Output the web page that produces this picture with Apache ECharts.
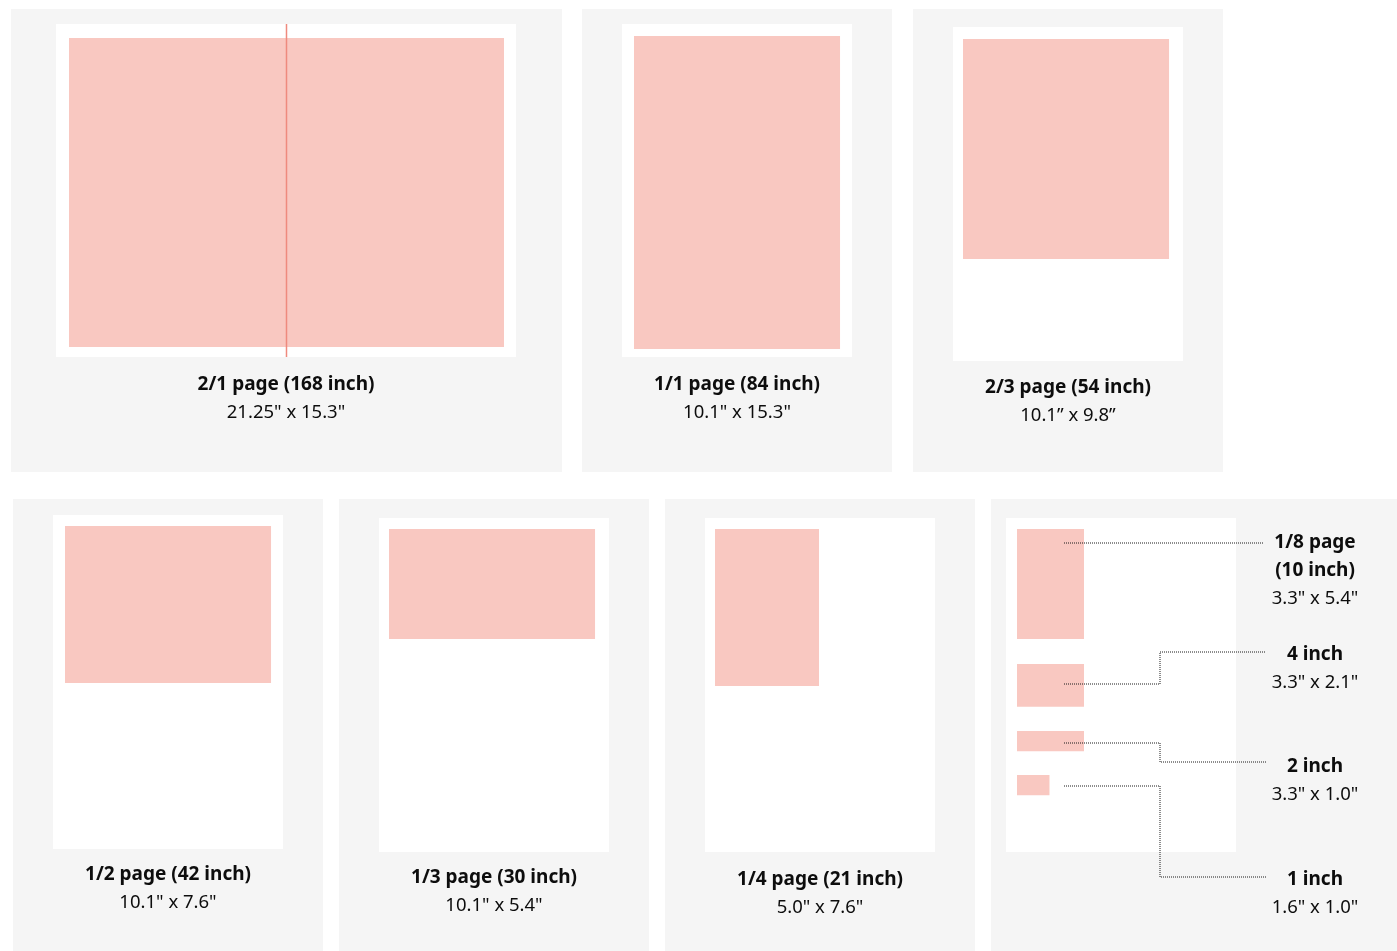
<!DOCTYPE html>
<html><head><meta charset="utf-8">
<script src="https://cdn.jsdelivr.net/npm/echarts@6/dist/echarts.min.js"></script>
<style>html,body{margin:0;padding:0;background:#fff}#c{width:1397px;height:951px}</style>
</head><body><div id="c"></div>
<script>
// ---------------- DATA ----------------
const adNames = ['2/1 page (168 inch)', '1/1 page (84 inch)', '2/3 page (54 inch)', '1/2 page (42 inch)', '1/3 page (30 inch)', '1/4 page (21 inch)'];
const adSizeLabels = ['21.25" x 15.3"', '10.1" x 15.3"', '10.1\u201D x 9.8\u201D', '10.1" x 7.6"', '10.1" x 5.4"', '5.0" x 7.6"'];
const adWidths = [21.25, 10.1, 10.1, 10.1, 10.1, 5.0];   // inches
const adHeights = [15.3, 15.3, 9.8, 7.6, 5.4, 7.6];      // inches
const smallNames = ['1/8 page\n(10 inch)', '4 inch', '2 inch', '1 inch'];
const smallSizeLabels = ['3.3" x 5.4"', '3.3" x 2.1"', '3.3" x 1.0"', '1.6" x 1.0"'];
const smallWidths = [3.3, 3.3, 3.3, 1.6];
const smallHeights = [5.4, 2.1, 1.0, 1.0];

// ---------------- LAYOUT / STYLE ----------------
const GREY = '#f5f5f5', PAGE = '#ffffff', PINK = '#f9c8c1', FOLD = '#ef8a7e', TXT = '#0d0d0d';
const FONT = '"Noto Sans", "Open Sans", sans-serif';
const panels = [[11,9,551,463],[582,9,310,463],[913,9,310,463],[13,499,310,452],[339,499,310,452],[665,499,310,452],[991,499,406,452]];
const pages = [[56,24,460,333],[622,24,230,333],[953,27,230,334],[53,515,230,334],[379,518,230,334],[705,518,230,334],[1006,518,230,334]];
const xScale = [20.47, 20.4, 20.4, 20.4, 20.4, 20.8, 20.3];   // px per inch
const yScale = [20.2, 20.46, 22.45, 20.66, 20.37, 20.66, 20.37];
const insetPx = [[13,14],[12,12],[10,12],[12,11],[10,11],[10,11],[11,11]];
const labelGap = [28, 28, 27, 26, 26, 28];      // page bottom -> title centre, px
const LINE = 28, TITLE_SIZE = 19, SUB_SIZE = 18.5, TEXT_DY = 2;
// small-ads panel (px relative to its page)
const slotTop = [11, 146, 213, 257];
const leadStartY = [25, 166, 225, 268];
const leadEndY = [25, 134, 244, 359];
const titleY = [23, 135, 247, 360];
const LEAD_X0 = 58, LEAD_ELBOW = 154, LEAD_X1 = [257, 260, 260, 260], LABEL_X = 309;

const grid = [], xAxis = [], yAxis = [], series = [];
pages.forEach((pg, i) => {
  grid.push({left: pg[0], top: pg[1], width: pg[2], height: pg[3], show: false});
  xAxis.push({type: 'value', gridIndex: i, min: 0, max: pg[2] / xScale[i], show: false});
  yAxis.push({type: 'value', gridIndex: i, min: 0, max: pg[3] / yScale[i], inverse: true, show: false});
});

function txt(x, y, s, bold) {
  return {type: 'text', x: x, y: y, style: {text: s, fill: TXT, fontSize: bold ? TITLE_SIZE : SUB_SIZE, fontWeight: bold ? 'bold' : 'normal', fontFamily: FONT, align: 'center', verticalAlign: 'middle'}};
}

adNames.forEach((name, i) => {
  series.push({
    type: 'custom', xAxisIndex: i, yAxisIndex: i, clip: false,
    data: [[adWidths[i], adHeights[i]]],
    renderItem: (params, api) => {
      const pw = pages[i][2] / xScale[i], ph = pages[i][3] / yScale[i];
      const ix = insetPx[i][0] / xScale[i], iy = insetPx[i][1] / yScale[i];
      const w = api.value(0), h = api.value(1);
      const a = api.coord([0, 0]), b = api.coord([pw, ph]);
      const p0 = api.coord([ix, iy]), p1 = api.coord([ix + w, iy + h]);
      const ch = [
        {type: 'rect', shape: {x: a[0], y: a[1], width: b[0] - a[0], height: b[1] - a[1]}, style: {fill: PAGE}},
        {type: 'rect', shape: {x: p0[0], y: p0[1], width: p1[0] - p0[0], height: p1[1] - p0[1]}, style: {fill: PINK}}
      ];
      if (i === 0) {
        const fx = api.coord([ix + w / 2, 0])[0];
        ch.push({type: 'line', shape: {x1: fx, y1: a[1], x2: fx, y2: b[1]}, style: {stroke: FOLD, lineWidth: 1.5}});
      }
      const cx = (a[0] + b[0]) / 2, ty = b[1] + labelGap[i];
      ch.push(txt(cx, ty, adNames[i], true));
      ch.push(txt(cx, ty + LINE, adSizeLabels[i], false));
      return {type: 'group', children: ch};
    }
  });
});

// small ads panel
series.push({
  type: 'custom', xAxisIndex: 6, yAxisIndex: 6, clip: false,
  data: smallWidths.map((w, k) => [w, smallHeights[k], k]),
  renderItem: (params, api) => {
    const k = api.value(2);
    const pw = pages[6][2] / xScale[6], ph = pages[6][3] / yScale[6];
    const ix = insetPx[6][0] / xScale[6], iy = slotTop[k] / yScale[6];
    const a = api.coord([0, 0]), b = api.coord([pw, ph]);
    const p0 = api.coord([ix, iy]), p1 = api.coord([ix + api.value(0), iy + api.value(1)]);
    const ch = [];
    if (k === 0) ch.push({type: 'rect', shape: {x: a[0], y: a[1], width: b[0] - a[0], height: b[1] - a[1]}, style: {fill: PAGE}});
    ch.push({type: 'rect', shape: {x: p0[0], y: p0[1], width: p1[0] - p0[0], height: p1[1] - p0[1]}, style: {fill: PINK}});
    const ox = a[0], oy = a[1];
    const pts = k === 0
      ? [[ox + LEAD_X0, oy + leadStartY[k]], [ox + LEAD_X1[k], oy + leadEndY[k]]]
      : [[ox + LEAD_X0, oy + leadStartY[k]], [ox + LEAD_ELBOW, oy + leadStartY[k]], [ox + LEAD_ELBOW, oy + leadEndY[k]], [ox + LEAD_X1[k], oy + leadEndY[k]]];
    ch.push({type: 'polyline', shape: {points: pts}, style: {stroke: '#1a1a1a', lineWidth: 1, lineDash: [1, 1], fill: null}});
    const lines = smallNames[k].split('\n');
    let y = oy + titleY[k] + TEXT_DY;
    lines.forEach(l => { ch.push(txt(ox + LABEL_X, y, l, true)); y += LINE; });
    ch.push(txt(ox + LABEL_X, y, smallSizeLabels[k], false));
    return {type: 'group', children: ch};
  }
});

const chart = echarts.init(document.getElementById('c'), null, {renderer: 'canvas'});
chart.setOption({
  backgroundColor: '#fff',
  animation: false,
  graphic: panels.map(p => ({type: 'rect', z: -10, shape: {x: p[0], y: p[1], width: p[2], height: p[3]}, style: {fill: GREY}})),
  grid, xAxis, yAxis, series
});
</script></body></html>
